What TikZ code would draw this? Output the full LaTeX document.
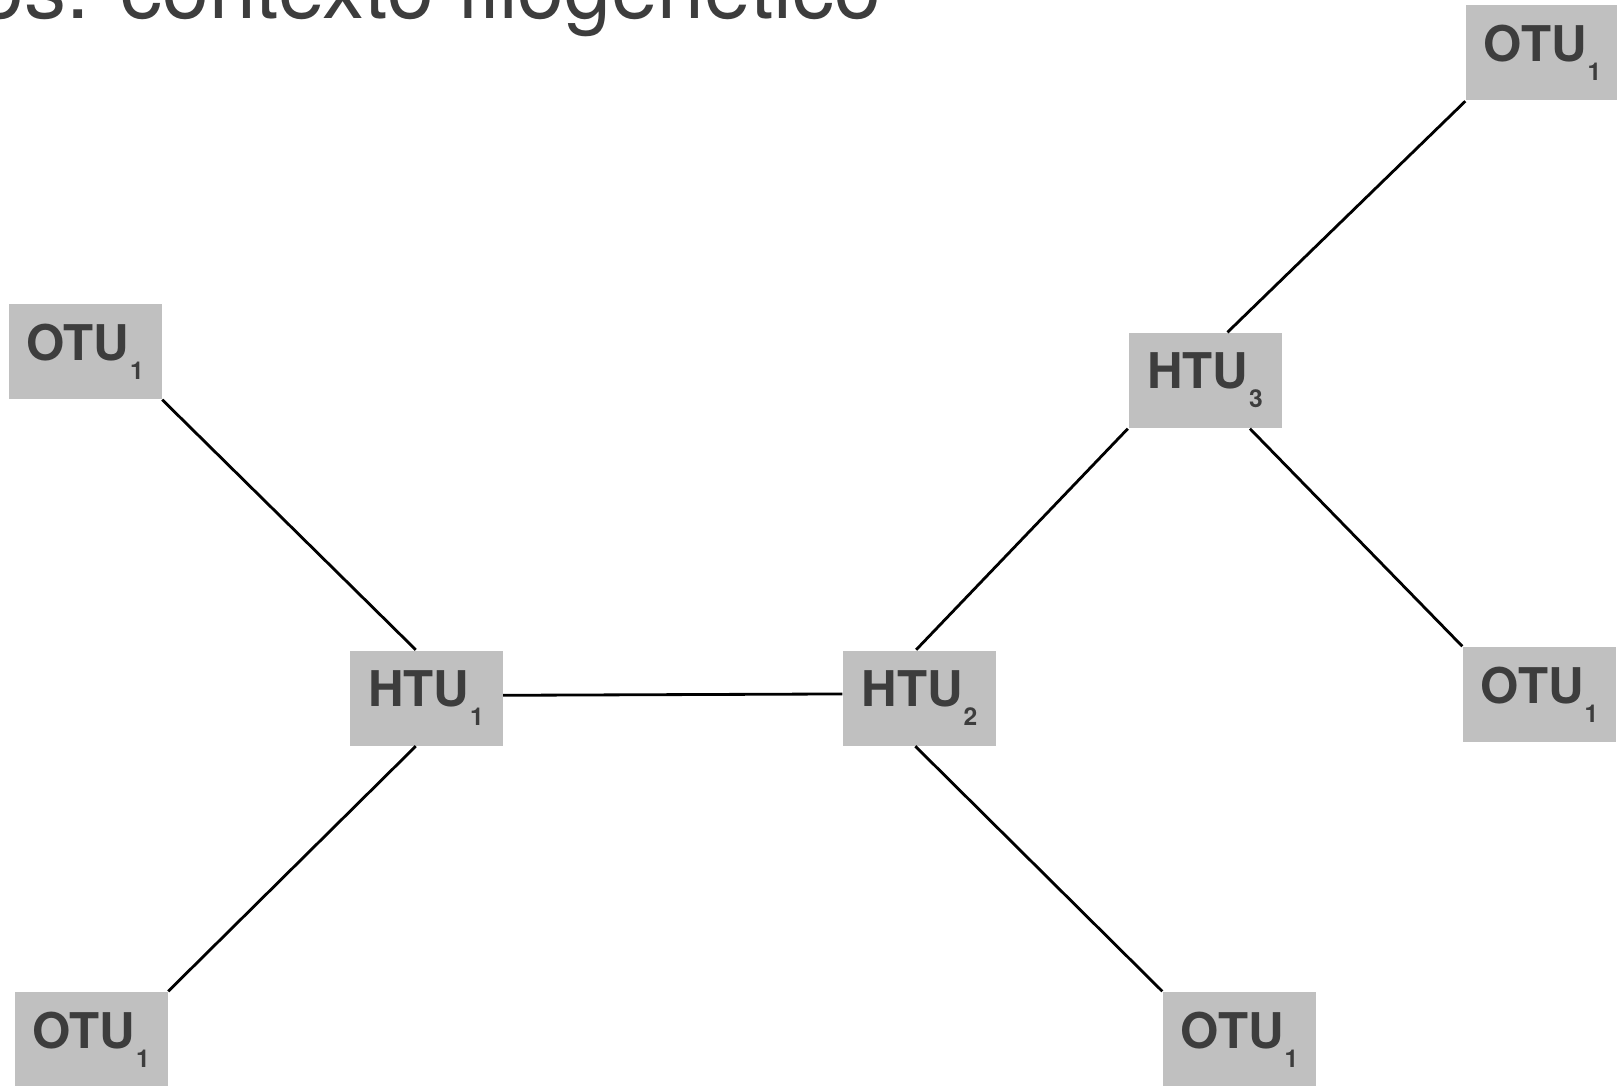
\documentclass[tikz,border=0pt]{standalone}
\usepackage{fontspec}
\setmainfont{TeX Gyre Heros}
\usepackage{xcolor}
\usetikzlibrary{positioning}

\definecolor{boxgray}{HTML}{C0C0C0}
\definecolor{textgray}{HTML}{3D3D3D}
\newcommand{\idx}[1]{\hspace{0.01cm}\raisebox{-0.19cm}{\fontsize{7}{7}\selectfont #1}}

\tikzset{
    unit/.style={fill=boxgray, text=textgray, inner sep=0pt,
        minimum width=1.53cm, minimum height=0.95cm,
        font=\fontsize{14}{16}\selectfont\bfseries},
    branch/.style={draw=black, line width=0.8pt}
}

\begin{document}
\begin{tikzpicture}
    \useasboundingbox (0,0) rectangle (16.17,10.85);

    % Title (cut off by the page)
    \node[anchor=base east, inner sep=0pt, text=textgray,
          font=\fontsize{23.9}{28}\selectfont] (title) at (8.82,10.66)
          {os: contexto filogenético};

    % Internal nodes
    \node[unit] (htuA) at (4.26,3.87) {HTU\idx{1}};
    \node[unit] (htuB) at (9.195,3.87) {HTU\idx{2}};
    \node[unit] (htuC) at (12.05,7.045) {HTU\idx{3}};

    % Terminal nodes
    \node[unit] (otuA) at (0.85,7.335) {OTU\idx{1}};
    \node[unit] (otuB) at (15.425,10.32) {OTU\idx{1}};
    \node[unit] (otuC) at (15.395,3.905) {OTU\idx{1}};
    \node[unit] (otuD) at (0.91,0.455) {OTU\idx{1}};
    \node[unit] (otuE) at (12.395,0.455) {OTU\idx{1}};

    % Branches
    \draw[branch] (otuA.south east) -- (htuA.102);
    \draw[branch] (htuA.258) -- (otuD.north east);
    \draw[branch] (htuA.2.6) -- (htuB.177.4);
    \draw[branch] (htuB.94.2) -- (htuC.south west);
    \draw[branch] (htuB.265.8) -- (otuE.north west);
    \draw[branch] (htuC.65.1) -- (otuB.south west);
    \draw[branch] (htuC.-47.8) -- (otuC.north west);
\end{tikzpicture}
\end{document}
